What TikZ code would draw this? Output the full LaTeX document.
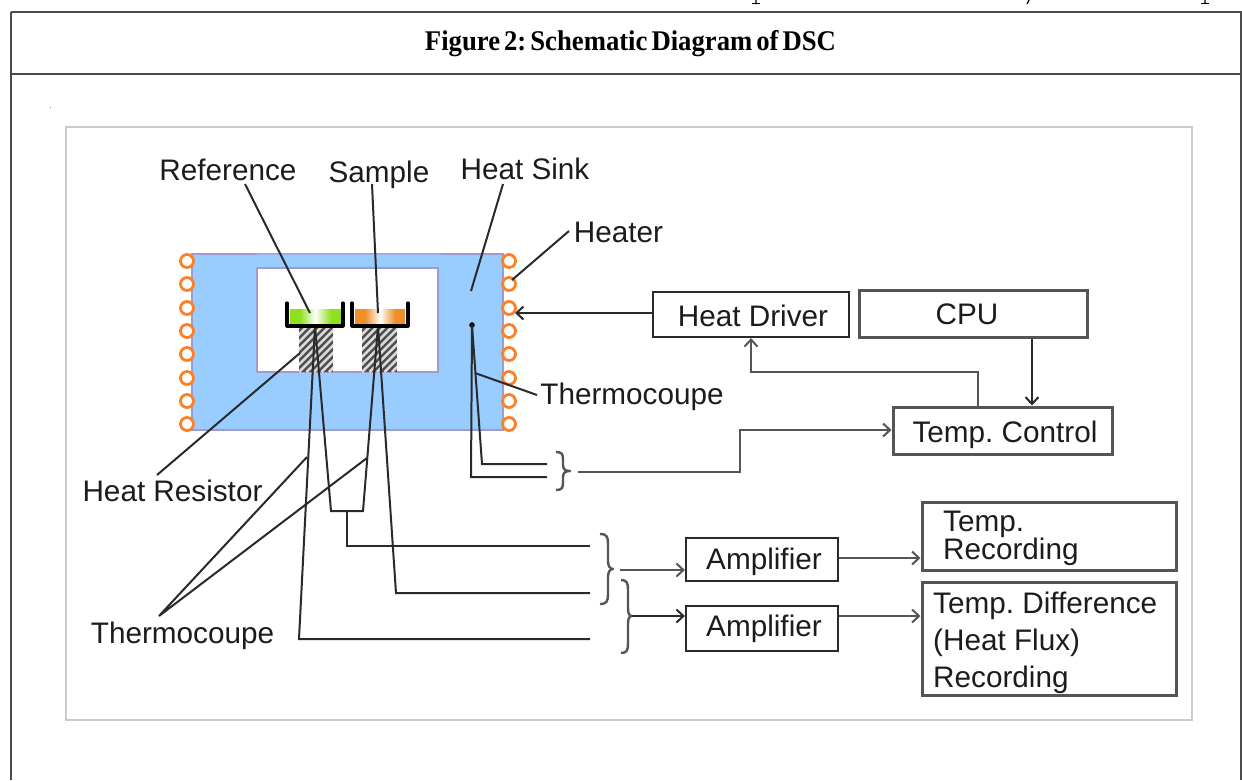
\documentclass[tikz,border=0pt]{standalone}
\usepackage{fontspec}
\setmainfont{Liberation Sans}
\newfontfamily\titlefont[WordSpace=0.6]{Liberation Serif}
\usetikzlibrary{arrows.meta,calc}
\definecolor{bodyblue}{HTML}{99CCFF}
\definecolor{bodyedge}{HTML}{9C9CCE}
\definecolor{coilorange}{HTML}{FF7F27}
\definecolor{framegray}{HTML}{C8CCCC}
\definecolor{inkline}{HTML}{2A2A2A}
\definecolor{softink}{HTML}{555555}
\definecolor{textink}{HTML}{1C1C1C}
\definecolor{capgreen}{HTML}{8FE020}
\definecolor{caporange}{HTML}{EE8F2A}
\tikzset{
  x=1pt,y=-1pt,
  lab/.style={inner sep=0pt,text=textink,font=\fontsize{29.7}{32}\selectfont,anchor=base},
  blockbox/.style={draw=inkline,line width=2.2pt,fill=white,inner sep=0pt},
  softbox/.style={draw=softink,line width=3pt,fill=white,inner sep=0pt},
  wire/.style={draw=inkline,line width=2pt,line join=miter},
  softwire/.style={draw=softink,line width=2.6pt,line join=miter},
  arr/.style={wire,-{Straight Barb[length=7pt,width=13pt,line width=2pt]}},
  softarr/.style={softwire,-{Straight Barb[length=7pt,width=13pt,line width=2pt]}},
  coil/.style={circle,draw=coilorange,line width=2.8pt,fill=white,minimum size=13pt,inner sep=0pt},
  cruc/.style={draw=black,line width=3.2pt,line join=round,line cap=round},
  tablerule/.style={draw=black!70,line width=1.6pt},
  bracepath/.style={draw=softink,line width=2.4pt,line join=round}
}
\begin{document}
\frenchspacing
\begin{tikzpicture}
\useasboundingbox (0,0) rectangle (1242,780);
\fill[white] (0,0) rectangle (1242,780);
% clipped text of the page above
\draw[black,line width=1.2pt] (756,0)--(756,4) (1205,0)--(1205,4) (1029,0)--(1027,4);
\draw[black,line width=1pt] (752,3.5)--(760,3.5) (1201,3.5)--(1209,3.5);
% table rules
\draw[tablerule] (11,12)--(1242,12) (11,74)--(1242,74);
\draw[tablerule] (11,12)--(11,780) (1241,12)--(1241,780);
\node[inner sep=0pt,anchor=base,font=\titlefont\bfseries\fontsize{28.5}{30}\selectfont] (title) at (630.5,50) {\resizebox{411pt}{\height}{Figure 2: Schematic Diagram of DSC}};
\fill[black!50] (49.5,106.5) rectangle (50.5,108);
% frame
\draw[framegray,line width=2.4pt] (66,127) rectangle (1192,720);
% body
\fill[bodyblue] (192,254) rectangle (503,430);
\draw[bodyedge,line width=1.4pt] (257,254) -- (192,254) -- (192,430) -- (503,430) -- (503,254) -- (441,254);
\draw[bodyedge!60!bodyblue,line width=1.4pt] (257,254) -- (441,254);
\draw[bodyedge,line width=1.4pt,fill=white] (257,268) rectangle (438,372);
% coils
\foreach \yy [count=\i] in {261,284,308,331,354,378,401,424}{
  \node[coil] (cl\i) at (187,\yy) {};
  \node[coil] (cr\i) at (509,\yy) {};
}
% hatched supports
\foreach \xa/\xb in {299/333,362/397}{
  \begin{scope}
  \clip (\xa,326) rectangle (\xb,372);
  \fill[black!70] (\xa,326) rectangle (\xb,372);
  \foreach \k in {-7,...,8}{
    \draw[white!85!black,line width=2.6pt] ({\xa+\k*7.5},372) -- ++(50,-50);
  }
  \end{scope}
}
% sensor wires
\coordinate (padl) at (315,326);
\coordinate (padr) at (378,326);
\coordinate (wa) at (590,639);
\coordinate (wb) at (590,546);
\coordinate (wc) at (590,593);
\draw[wire] (padl) -- (299,639) -- (wa);
\draw[wire] (padl) -- (331,511) -- (363,511) -- (padr);
\draw[wire] (347,511) -- (347,546) -- (wb);
\draw[wire] (padr) -- (396,593) -- (wc);
% crucibles
\fill[capgreen] (290,309) rectangle (341,324);
\shade[left color=capgreen,right color=white] (300,309) rectangle (315.5,324);
\shade[left color=white,right color=capgreen] (315,309) rectangle (331,324);
\fill[caporange] (355,309) rectangle (405,324);
\shade[left color=caporange,right color=white] (365,309) rectangle (380.5,324);
\shade[left color=white,right color=caporange] (380,309) rectangle (395,324);
\draw[cruc] (287,303) -- (287,326) -- (343,326) -- (343,303);
\draw[cruc] (352,303) -- (352,326) -- (408,326) -- (408,303);
\coordinate (refpan) at (310,313);
\coordinate (samplepan) at (378,313);
\coordinate (sinkpt) at (471,291);
\coordinate (heaterpt) at (512,280);
\coordinate (junction) at (472,325);
\coordinate (tcpt) at (475,373);
\coordinate (respt) at (300,353);
% labels
\node[lab] (reference) at (228,180) {Reference};
\node[lab] (sample) at (379,182) {Sample};
\node[lab] (heatsink) at (525,179) {Heat Sink};
\node[lab] (heater) at (618.5,242) {Heater};
\node[lab] (tclabelone) at (632,404) {Thermocoupe};
\node[lab] (heatres) at (172.5,501) {Heat Resistor};
\node[lab] (tclabeltwo) at (182.5,643) {Thermocoupe};
% blocks
\node[blockbox,minimum width=196pt,minimum height=45pt] (driver) at (751,314.5) {};
\node[lab] (drivertext) at (753,326) {Heat Driver};
\node[softbox,minimum width=228pt,minimum height=47pt] (cpu) at (973,313.5) {};
\node[lab] (cputext) at (967,324) {CPU};
\node[softbox,minimum width=219pt,minimum height=47pt] (control) at (1002.5,430.5) {};
\node[lab] (controltext) at (1005,442) {Temp. Control};
\node[blockbox,minimum width=152pt,minimum height=43pt] (ampone) at (762,559.5) {};
\node[lab] (amponetext) at (764,569) {Amplifier};
\node[blockbox,minimum width=152pt,minimum height=45pt] (amptwo) at (762,628.5) {};
\node[lab] (amptwotext) at (764,636) {Amplifier};
\node[softbox,minimum width=254pt,minimum height=68pt] (rec) at (1049,536) {};
\node[lab,align=left,anchor=base west,font=\fontsize{29.7}{28}\selectfont] (rectext) at (943,559) {Temp.\\Recording};
\node[softbox,minimum width=254pt,minimum height=113pt] (diff) at (1049,638.5) {};
\node[lab,align=left,anchor=base west,font=\fontsize{29.7}{37}\selectfont] (difftext) at (933,687) {Temp. Difference\\(Heat Flux)\\Recording};
% leaders
\coordinate (refstart) at (245,184);
\coordinate (samplestart) at (372,184);
\coordinate (sinkstart) at (503,184);
\coordinate (heaterstart) at (569,231);
\coordinate (tcstart) at (537,395);
\coordinate (resend) at (157,475);
\draw[wire] (refstart) -- (refpan);
\draw[wire] (samplestart) -- (samplepan);
\draw[wire] (sinkstart) -- (sinkpt);
\draw[wire] (heaterstart) -- (heaterpt);
\draw[wire] (tcstart) -- (tcpt);
\draw[wire] (respt) -- (resend);
\coordinate (fan) at (159,616);
\draw[wire] (307,457) -- (fan) -- (367,458);
% heat-sink thermocouple
\fill[black] (junction) circle (2.8pt);
\coordinate (jone) at (547,477);
\coordinate (jtwo) at (547,464);
\draw[wire] (junction) -- (471,477) -- (jone);
\draw[wire] (junction) -- (482,464) -- (jtwo);
% braces
\draw[bracepath] (556,452) .. controls (562,452) and (563,454) .. (563,460) -- (563,465) .. controls (563,469) and (565,471) .. (570,471) .. controls (565,471) and (563,473) .. (563,477) -- (563,482) .. controls (563,488) and (562,490) .. (556,490);
\draw[bracepath] (600,534) .. controls (607,534) and (608,537) .. (608,544) -- (608,561) .. controls (608,566) and (610,569) .. (613,569) .. controls (610,569) and (608,572) .. (608,577) -- (608,594) .. controls (608,601) and (607,604) .. (600,604);
\draw[bracepath] (621,580) .. controls (627,580) and (628,583) .. (628,590) -- (628,608) .. controls (628,613) and (629,616) .. (632,616) .. controls (629,616) and (628,619) .. (628,624) -- (628,643) .. controls (628,650) and (627,653) .. (621,653);
% arrows
\coordinate (bone) at (578,472);
\coordinate (btwo) at (620,570);
\coordinate (bthree) at (632,616);
\draw[arr] (driver.west |- 0,313) -- (515,313);
\draw[arr] (cpu.south -| 1032,0) -- (control.north -| 1032,0);
\draw[softarr] (control.north -| 978,0) -- (978,372) -- (751,372) -- (driver.south -| 751,0);
\draw[softarr] (bone) -- (740,472) -- (740,430) -- (control.west |- 0,430);
\draw[softarr] (btwo) -- (ampone.west |- btwo);
\draw[arr] (bthree) -- (amptwo.west |- bthree);
\draw[softarr] (ampone.east |- 0,558) -- (rec.west |- 0,558);
\draw[softarr] (amptwo.east |- 0,616) -- (diff.west |- 0,616);
\end{tikzpicture}
\end{document}
